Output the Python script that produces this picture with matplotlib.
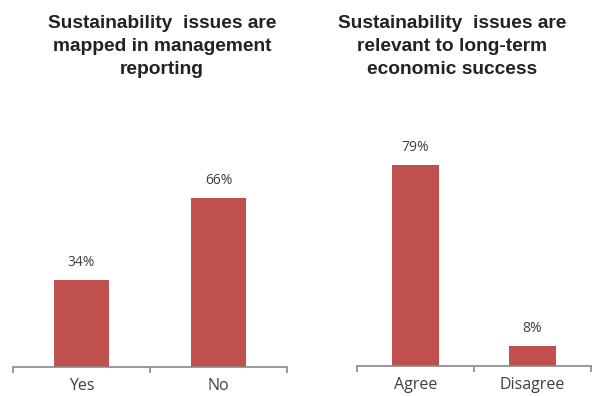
import matplotlib.pyplot as plt
from matplotlib.ticker import FixedLocator

W, H = 592, 396

left_title = "Sustainability  issues are\nmapped in management\nreporting"
left_cats = ["Yes", "No"]
left_vals = [34, 66]

right_title = "Sustainability  issues are\nrelevant to long-term\neconomic success"
right_cats = ["Agree", "Disagree"]
right_vals = [79, 8]

BAR = "#C0504D"
AXIS = "#888888"
TXT = "#404040"


def px_axes(fig, x0, x1, base, top):
    # pixel box -> figure fraction
    return fig.add_axes([x0 / W, (H - base) / H, (x1 - x0) / W, (base - top) / H])


def draw(ax, cats, vals, ymax):
    n = len(cats)
    xs = list(range(n))
    ax.bar(xs, vals, width=0.4, color=BAR, zorder=2)
    for x, v in zip(xs, vals):
        ax.text(x, v + 4, f"{v}%", ha="center", va="bottom", fontsize=10,
                color=TXT, family="Open Sans")
    ax.set_xlim(-0.5, n - 0.5)
    ax.set_ylim(0, ymax)
    for s in ["top", "left", "right"]:
        ax.spines[s].set_visible(False)
    ax.spines["bottom"].set_color(AXIS)
    ax.spines["bottom"].set_linewidth(1.2)
    ax.set_yticks([])
    ax.set_xticks(xs)
    ax.set_xticklabels(cats, fontsize=11.5, color=TXT, family="Open Sans")
    ax.tick_params(axis="x", which="major", length=0, pad=8)
    ax.xaxis.set_minor_locator(FixedLocator([i - 0.5 for i in range(n + 1)]))
    ax.tick_params(axis="x", which="minor", length=4, color=AXIS, width=1.2)


fig = plt.figure(figsize=(W / 100, H / 100), dpi=100)

ax1 = px_axes(fig, 13, 287, 367, 100)
draw(ax1, left_cats, left_vals, 267 / 2.56)

ax2 = px_axes(fig, 357, 591, 366, 100)
draw(ax2, right_cats, right_vals, 266 / 2.54)

fig.text(162 / W, 1 - 15 / H, left_title, ha="center", va="top", fontsize=13.8,
         fontweight="bold", family="Liberation Sans", color="#222222", linespacing=1.45)
fig.text(452 / W, 1 - 15 / H, right_title, ha="center", va="top", fontsize=13.8,
         fontweight="bold", family="Liberation Sans", color="#222222", linespacing=1.45)

fig.savefig("out.png", dpi=100)
